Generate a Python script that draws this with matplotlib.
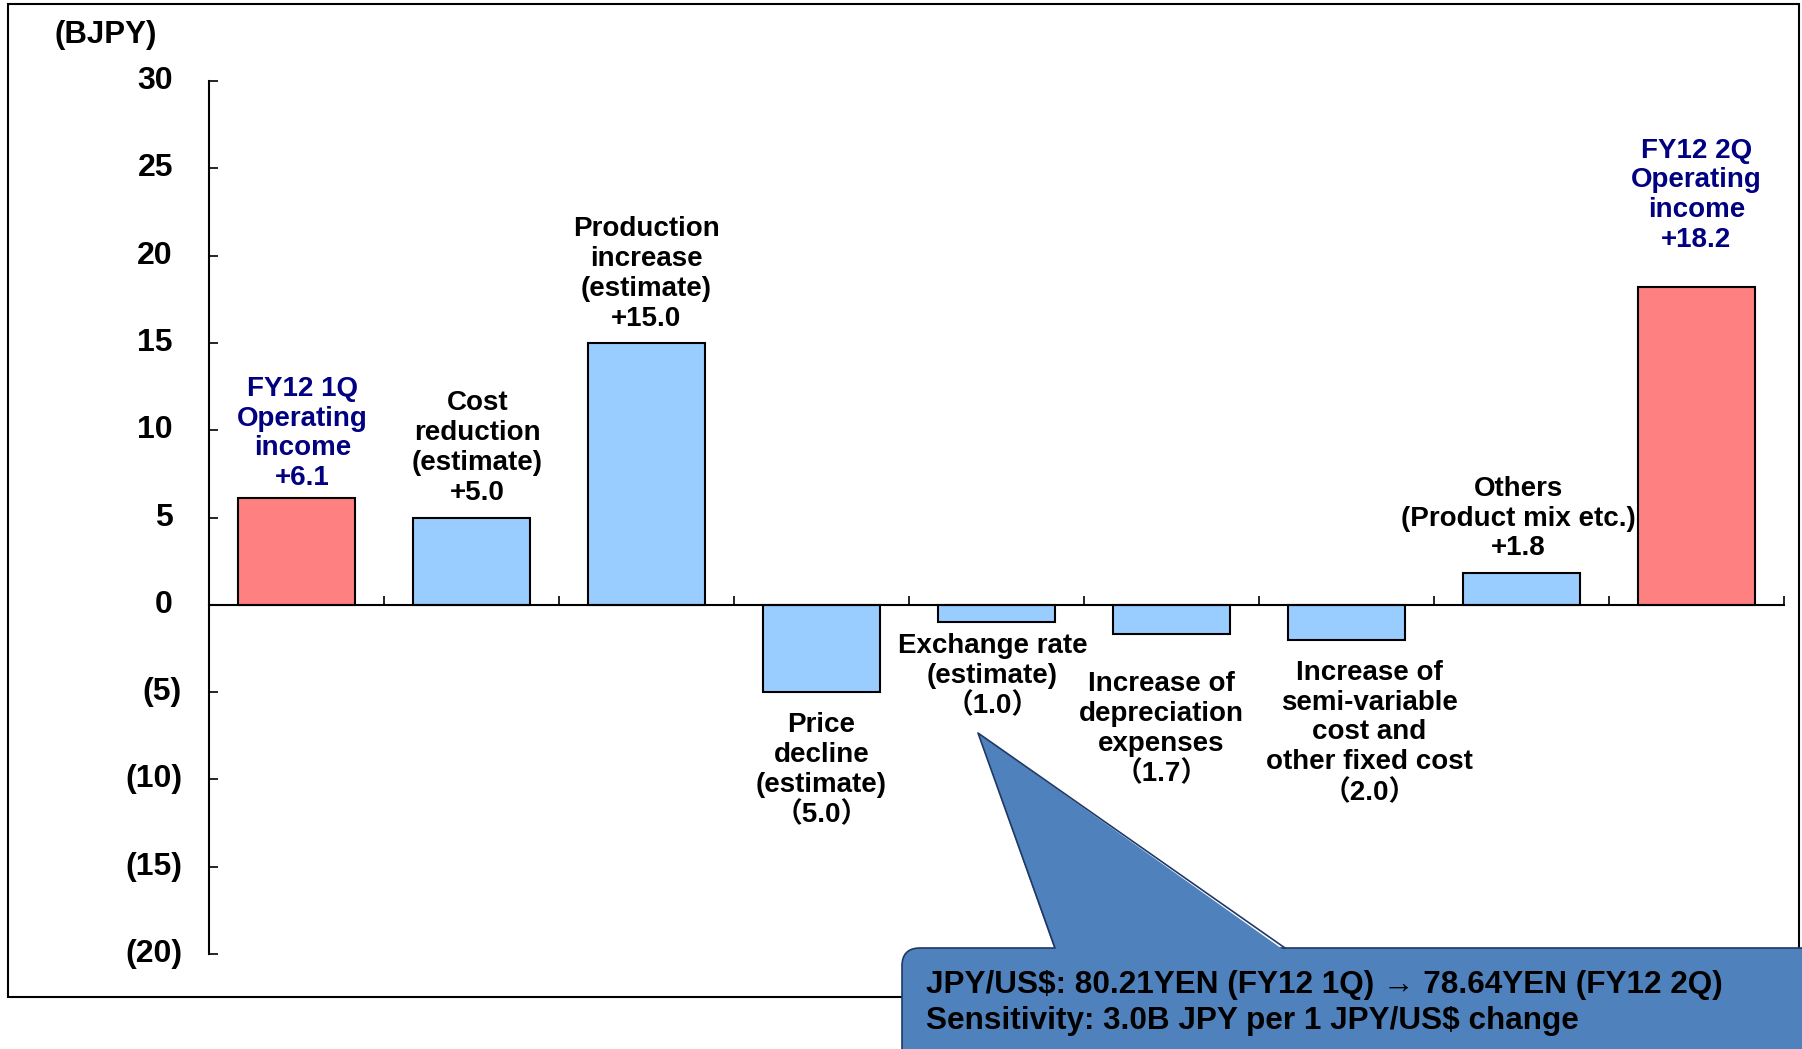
import matplotlib.pyplot as plt
from matplotlib.patches import FancyBboxPatch, Polygon, Rectangle
from matplotlib.transforms import IdentityTransform
from matplotlib.lines import Line2D

# data
names = ["FY12 1Q\nOperating\nincome", "Cost\nreduction\n(estimate)",
         "Production\nincrease\n(estimate)", "Price\ndecline\n(estimate)",
         "Exchange rate\n(estimate)", "Increase of\ndepreciation\nexpenses",
         "Increase of\nsemi-variable\ncost and\nother fixed cost",
         "Others\n(Product mix etc.)", "FY12 2Q\nOperating\nincome"]
values = [6.1, 5.0, 15.0, -5.0, -1.0, -1.7, -2.0, 1.8, 18.2]
is_total = [True, False, False, False, False, False, False, False, True]
yticks = [30, 25, 20, 15, 10, 5, 0, -5, -10, -15, -20]
unit = "(BJPY)"
note = "JPY/US$: 80.21YEN (FY12 1Q) \u2192 78.64YEN (FY12 2Q)\nSensitivity: 3.0B JPY per 1 JPY/US$ change"

# label offsets from bar end / bar centre, in pixels
gaps = [7, 12, 11, 20, 11, 37, 20, 12, 34]
shifts = [6, 6, 0, 0, -4, -10, 23, -3, 0]

W, H = 1802, 1049
FONT = ['Liberation Sans', 'Noto Sans CJK JP', 'DejaVu Sans']
plt.rcParams['font.family'] = FONT
plt.rcParams['font.weight'] = 'bold'

fig = plt.figure(figsize=(W / 100, H / 100), dpi=100)
ax = fig.add_axes([209 / W, 1 - 954 / H, 1575 / W, 873 / H])

colors = ['#FF8080' if t else '#99CCFF' for t in is_total]
x = list(range(len(values)))
ax.bar(x, values, width=0.67, color=colors, edgecolor='black', linewidth=1.5, zorder=2)

ax.set_xlim(-0.5, len(values) - 0.5)
ax.set_ylim(-20, 30)
for s in ['top', 'right']:
    ax.spines[s].set_visible(False)
ax.spines['bottom'].set_position(('data', 0))
ax.spines['left'].set_linewidth(1.5)
ax.spines['bottom'].set_linewidth(1.5)
ax.spines['bottom'].set_zorder(3)
ax.set_xticks([i - 0.5 for i in range(len(values) + 1)])
ax.set_xticklabels([])
ax.tick_params(axis='x', direction='in', length=6.5, width=1.2)
ax.set_yticks(yticks)
ax.set_yticklabels([])
ax.tick_params(axis='y', direction='in', length=6.5, width=1.2)

ytr = ax.get_yaxis_transform()
for v in yticks:
    if v < 0:
        ax.text(-0.0171, v, f"({-v})", transform=ytr, ha='right', va='center', fontsize=23)
    else:
        ax.text(-0.0229, v, f"{v}", transform=ytr, ha='right', va='center', fontsize=23)

for i, v in enumerate(values):
    if v >= 0:
        txt = names[i] + "\n+" + f"{v:.1f}"
        off, va = gaps[i] * 0.72, 'bottom'
    else:
        txt = names[i] + "\n\uff08" + f"{-v:.1f}" + "\uff09"
        off, va = -gaps[i] * 0.72, 'top'
    ax.annotate(txt, (i, v), xytext=(shifts[i] * 0.72, off), textcoords='offset points',
                ha='center', va=va, fontsize=20, linespacing=1.19,
                color='#000080' if is_total[i] else 'black')

fig.text(55 / W, 1 - 35 / H, unit, ha='left', va='center', fontsize=22.5)

# outer frame
fig.patches.append(Rectangle((8, H - 997), 1791, 993, transform=IdentityTransform(),
                             fill=False, edgecolor='black', linewidth=1.5, zorder=0))

# callout box
ident = IdentityTransform()
box = FancyBboxPatch((902, -40), 1000, H - 948 + 40,
                     boxstyle="round,pad=0,rounding_size=18", transform=ident,
                     facecolor='#4F81BD', edgecolor='#1F3864', linewidth=1.2, zorder=5)
fig.patches.append(box)
tip = (978, H - 733)
bl, br = (1055, H - 948), (1285, H - 948)
fig.patches.append(Polygon([tip, (bl[0], bl[1] - 3), (br[0], br[1] - 3)], closed=True,
                           transform=ident, facecolor='#4F81BD', edgecolor='none', zorder=6))
fig.lines.append(Line2D([bl[0], tip[0], br[0]], [bl[1], tip[1], br[1]], transform=ident,
                        color='#1F3864', linewidth=1.2, zorder=7))
fig.text(926 / W, 1 - 1003 / H, note, ha='left', va='center', fontsize=22.7,
         linespacing=1.24, color='black', zorder=8)

fig.savefig("out.png", dpi=100)
